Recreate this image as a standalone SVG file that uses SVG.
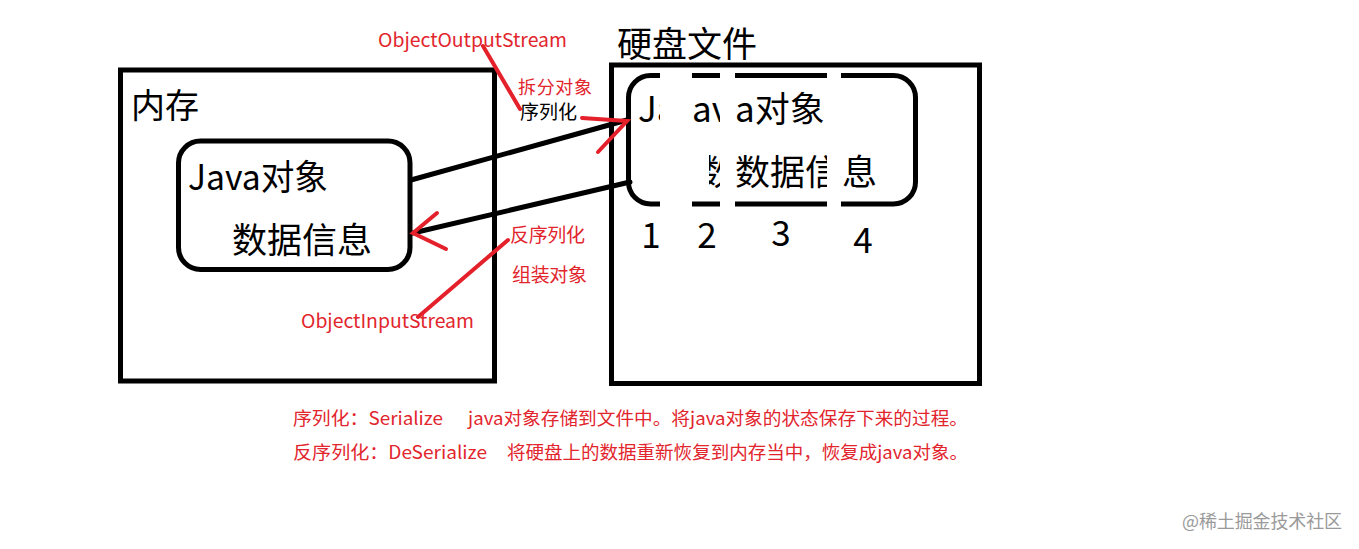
<svg xmlns="http://www.w3.org/2000/svg" width="1359" height="549" viewBox="0 0 1359 549">
<defs>
<style>
.box{fill:none;stroke:#000;stroke-width:5}
.t{font-family:"Noto Sans CJK SC","Noto Sans",sans-serif;fill:#000}
.big{font-size:35px}
.mid{font-size:19px}
.sm{font-size:18px}
.red{fill:#e2252d}
.bl{stroke:#000;stroke-width:5;stroke-linecap:round;fill:none}
.rl{stroke:#e4202a;stroke-width:4;stroke-linecap:round;fill:none}
.wm{font-family:"Noto Sans CJK SC","Noto Sans",sans-serif;font-size:18px;fill:#9a9a9a}
</style>
<clipPath id="cols">
<rect x="615" y="60" width="45" height="160"/>
<rect x="692" y="60" width="28" height="160"/>
<rect x="735" y="60" width="92" height="160"/>
<rect x="841" y="60" width="85" height="160"/>
</clipPath>
<clipPath id="c1"><rect x="615" y="60" width="45" height="160"/></clipPath>
<clipPath id="c2"><rect x="692" y="60" width="28" height="160"/></clipPath>
<clipPath id="c2b"><rect x="709" y="60" width="11" height="160"/></clipPath>
<clipPath id="c3"><rect x="735" y="60" width="92" height="160"/></clipPath>
<clipPath id="c4"><rect x="841" y="60" width="85" height="160"/></clipPath>
</defs>
<rect width="1359" height="549" fill="#fff"/>

<g id="node-memory">
<rect class="box" x="120.5" y="70" width="374" height="311"/>
<text class="t" x="131" y="118" font-size="34">内存</text>
</g>

<g id="node-java-object-memory">
<rect class="box" x="178.5" y="141" width="231.5" height="128.5" rx="22"/>
<text class="t big" x="188" y="190" textLength="140" lengthAdjust="spacingAndGlyphs">Java对象</text>
<text class="t big" x="232" y="253">数据信息</text>
</g>

<g id="node-disk">
<rect class="box" x="611.5" y="65" width="368" height="318.5"/>
<text class="t big" x="617" y="57">硬盘文件</text>
</g>

<g id="node-java-object-disk">
<rect class="box" x="628.5" y="75.5" width="287" height="128.5" rx="22" clip-path="url(#cols)"/>
<text class="t big" x="638" y="122" clip-path="url(#c1)">Ja</text>
<text class="t big" x="692" y="122" clip-path="url(#c2)">av</text>
<text class="t big" x="735" y="122" clip-path="url(#c3)">a对象</text>
<text class="t big" x="699" y="185" clip-path="url(#c2b)">数</text>
<text class="t big" x="735" y="185" clip-path="url(#c3)">数据信</text>
<text class="t big" x="842" y="185" clip-path="url(#c4)">息</text>
<text class="t big" x="651" y="248" text-anchor="middle">1</text>
<text class="t big" x="707" y="248" text-anchor="middle">2</text>
<text class="t big" x="781" y="246" text-anchor="middle">3</text>
<text class="t big" x="863" y="253" text-anchor="middle">4</text>
</g>

<g id="connectors">
<line class="bl" x1="411" y1="180" x2="627" y2="120"/>
<line class="bl" x1="630" y1="182" x2="413" y2="233"/>
<polyline class="rl" points="582,118 627,121 598,152"/>
<polyline class="rl" points="437,213 413,233 446,249"/>
<line class="rl" x1="483" y1="46" x2="520" y2="109"/>
<line class="rl" x1="508" y1="240" x2="418" y2="317"/>
</g>

<g id="labels">
<text class="t mid red" x="378" y="47" textLength="189" lengthAdjust="spacingAndGlyphs">ObjectOutputStream</text>
<text class="t sm red" x="518" y="94" textLength="74">拆分对象</text>
<text class="t mid" x="520" y="119" textLength="57">序列化</text>
<text class="t mid red" x="510" y="242" textLength="75">反序列化</text>
<text class="t mid red" x="512" y="282" textLength="75">组装对象</text>
<text class="t mid red" x="301" y="328" textLength="173" lengthAdjust="spacingAndGlyphs">ObjectInputStream</text>
</g>

<g id="notes">
<text class="t sm red" x="293" y="425" textLength="150" lengthAdjust="spacingAndGlyphs">序列化：Serialize</text>
<text class="t sm red" x="468" y="425" textLength="500" lengthAdjust="spacingAndGlyphs">java对象存储到文件中。将java对象的状态保存下来的过程。</text>
<text class="t sm red" x="293" y="459" textLength="194" lengthAdjust="spacingAndGlyphs">反序列化：DeSerialize</text>
<text class="t sm red" x="507" y="459" textLength="461" lengthAdjust="spacingAndGlyphs">将硬盘上的数据重新恢复到内存当中，恢复成java对象。</text>
</g>

<text class="wm" x="1182" y="528" textLength="160">@稀土掘金技术社区</text>
</svg>
